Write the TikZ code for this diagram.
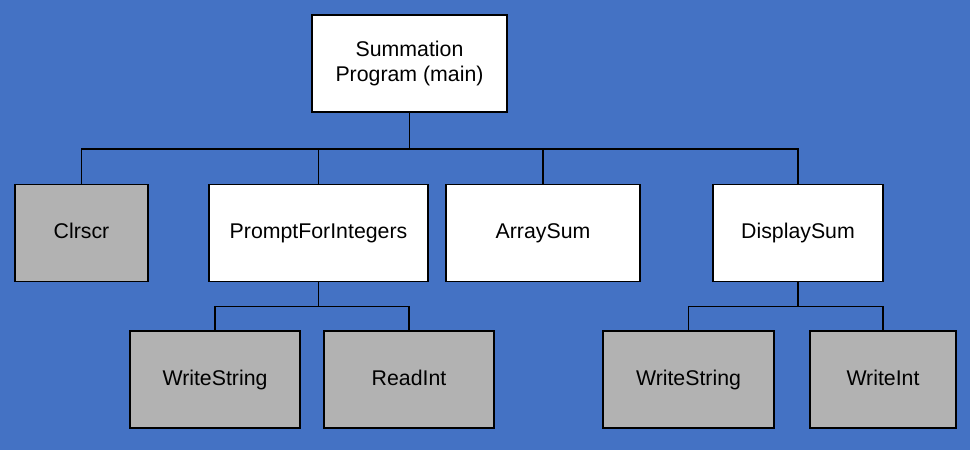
\documentclass[tikz,border=0pt]{standalone}
\usepackage{fontspec}
\setmainfont{Liberation Sans}
\usetikzlibrary{positioning}

\definecolor{bgblue}{RGB}{68,114,196}
\definecolor{libgray}{RGB}{178,178,178}

\tikzset{
    module/.style={draw=black, line width=1.6pt, fill=white, inner sep=0pt,
        minimum height=97pt, text height=15.6pt, text depth=4.5pt,
        font=\fontsize{21.3}{25.5}\selectfont},
    libmod/.style={module, fill=libgray},
    link/.style={black, line width=1.6pt}
}

\begin{document}
\begin{tikzpicture}[x=1pt, y=-1pt]

    % Rows and bus heights
    \def\yma{63.5}
    \def\ymb{233}
    \def\ymc{379.5}
    \def\busa{149}
    \def\busb{306.5}

    % Background
    \fill[bgblue] (0,0) rectangle (970,450);

    % Main program
    \node[module, minimum width=195pt, text height=, text depth=, align=center] (main) at (409.5,\yma)
        {Summation\\Program (main)};

    % Second level
    \node[libmod, minimum width=133pt] (clrscr) at (81.5,\ymb) {Clrscr};
    \node[module, minimum width=219pt] (prompt) at (318.5,\ymb) {PromptForIntegers};
    \node[module, minimum width=194pt] (arrsum) at (543,\ymb) {ArraySum};
    \node[module, minimum width=170pt] (dispsum) at (798,\ymb) {DisplaySum};

    % Third level
    \node[libmod, minimum width=170pt] (wstra) at (215,\ymc) {WriteString};
    \node[libmod, minimum width=170pt] (rint) at (409,\ymc) {ReadInt};
    \node[libmod, minimum width=171pt] (wstrb) at (688.5,\ymc) {WriteString};
    \node[libmod, minimum width=146pt] (wint) at (883,\ymc) {WriteInt};

    % Bus points
    \coordinate (busa) at (0,\busa);
    \coordinate (busb) at (0,\busb);

    % Connectors
    \foreach \c in {clrscr, prompt, arrsum, dispsum}{
        \draw[link] (main.south) -- (main.south |- busa) -| (\c.north);
    }
    \foreach \c in {wstra, rint}{
        \draw[link] (prompt.south) -- (prompt.south |- busb) -| (\c.north);
    }
    \foreach \c in {wstrb, wint}{
        \draw[link] (dispsum.south) -- (dispsum.south |- busb) -| (\c.north);
    }

\end{tikzpicture}
\end{document}
